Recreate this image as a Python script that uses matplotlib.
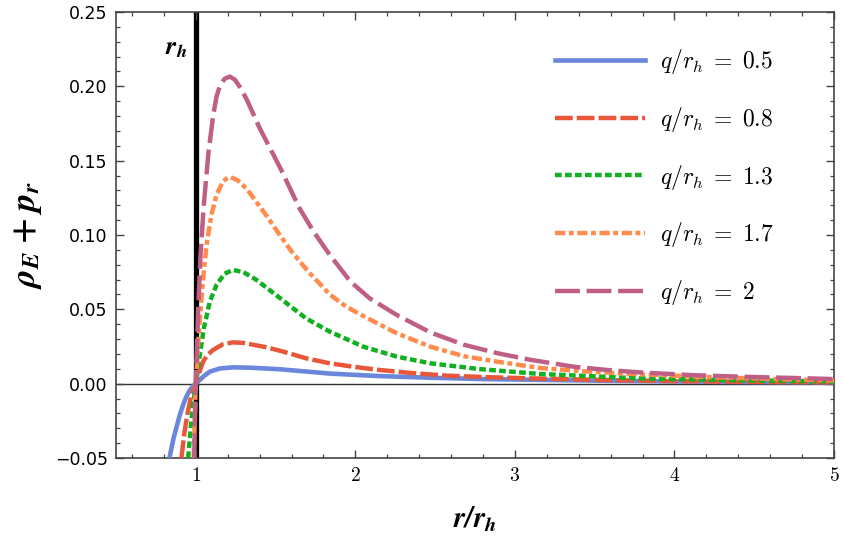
import numpy as np
import matplotlib
matplotlib.use("Agg")
import matplotlib.pyplot as plt
from matplotlib.ticker import MultipleLocator

plt.rcParams['mathtext.fontset'] = 'cm'

# values
q_labels = ["0.5", "0.8", "1.3", "1.7", "2"]

x_q05 = [0.835, 0.86, 0.88, 0.90, 0.92, 0.94, 0.96, 0.98, 1.0, 1.025, 1.05, 1.088,
         1.15, 1.234, 1.35, 1.527, 1.70, 1.84, 2.13, 2.47, 2.8, 3.2, 3.6, 4.0, 4.5, 5.0]
y_q05 = [-0.05, -0.037, -0.029, -0.021, -0.0145, -0.009, -0.0048, -0.0019, 0.0, 0.0025,
         0.005, 0.0081, 0.0102, 0.0110, 0.0107, 0.0097, 0.0081, 0.0068, 0.0052, 0.0040,
         0.0031, 0.0025, 0.0019, 0.0015, 0.0011, 0.0009]

x_q08 = [0.91, 0.93, 0.95, 0.97, 0.985, 1.0, 1.02, 1.046, 1.075, 1.109, 1.17, 1.234,
         1.30, 1.443, 1.55, 1.694, 1.84, 2.0, 2.154, 2.35, 2.572, 2.85, 3.2, 3.6,
         4.0, 4.5, 5.0]
y_q08 = [-0.05, -0.032, -0.019, -0.009, -0.004, 0.0, 0.007, 0.0148, 0.0195, 0.0227,
         0.0265, 0.0278, 0.0274, 0.0245, 0.0215, 0.017, 0.0137, 0.0112, 0.0092, 0.0072,
         0.0054, 0.0043, 0.0033, 0.0024, 0.0017, 0.0012, 0.0009]

x_q13 = [0.952, 0.97, 0.985, 1.0, 1.025, 1.05, 1.088, 1.13, 1.18, 1.234, 1.30, 1.38,
         1.53, 1.69, 1.84, 2.05, 2.26, 2.47, 2.78, 3.16, 3.78, 4.4, 5.0]
y_q13 = [-0.05, -0.028, -0.013, 0.0, 0.019, 0.037, 0.0552, 0.0664, 0.074, 0.0765,
         0.075, 0.0698, 0.0574, 0.044, 0.035, 0.0249, 0.0182, 0.0137, 0.0098, 0.0065,
         0.0036, 0.0023, 0.0015]

x_q17 = [0.987, 1.0, 1.02, 1.04, 1.056, 1.071, 1.098, 1.13, 1.17, 1.19, 1.215, 1.26,
         1.32, 1.44, 1.52, 1.60, 1.70, 1.84, 1.94, 2.05, 2.26, 2.47, 2.68, 2.89, 3.16,
         3.45, 3.78, 4.2, 4.6, 5.0]
y_q17 = [-0.05, 0.0, 0.035, 0.063, 0.082, 0.0956, 0.1135, 0.127, 0.136, 0.1378, 0.139,
         0.137, 0.131, 0.1135, 0.101, 0.089, 0.076, 0.060, 0.052, 0.0455, 0.0339, 0.0249,
         0.0185, 0.0148, 0.0105, 0.0082, 0.0063, 0.0045, 0.0032, 0.0022]

x_q20 = [0.99, 1.0, 1.015, 1.03, 1.05, 1.08, 1.11, 1.13, 1.15, 1.18, 1.213, 1.245,
         1.28, 1.32, 1.40, 1.53, 1.65, 1.74, 1.84, 1.97, 2.09, 2.26, 2.47, 2.68, 2.89,
         3.09, 3.37, 3.58, 3.78, 4.10, 4.41, 4.83, 5.0]
y_q20 = [-0.05, 0.0, 0.050, 0.087, 0.120, 0.156, 0.181, 0.193, 0.200, 0.2050, 0.2066,
         0.2045, 0.199, 0.191, 0.172, 0.145, 0.118, 0.102, 0.0866, 0.0686, 0.0574,
         0.0462, 0.0345, 0.0262, 0.0205, 0.0162, 0.0114, 0.0092, 0.0076, 0.0058,
         0.0047, 0.0036, 0.0031]

xs = [x_q05, x_q08, x_q13, x_q17, x_q20]
ys = [y_q05, y_q08, y_q13, y_q17, y_q20]

colors = ['#6A87DB', '#E8573A', '#10B020', '#FF8C4C', '#BF5F86']
dash_styles = [None, (4.0, 0.9), (1.5, 0.75), (2.3, 0.8, 1.1, 0.8), (5.6, 1.5)]

fig = plt.figure(figsize=(8.43, 5.41), dpi=100)
ax = fig.add_axes([0.1376, 0.1534, 0.8517, 0.8244])

# horizon and zero line
ax.axvline(1.0, color='black', lw=3.8, zorder=1)
ax.axhline(0.0, color='#333333', lw=1.0, zorder=1)

for x, y, c, d, q in zip(xs, ys, colors, dash_styles, q_labels):
    lab = r'$q/r_h\;=\;' + q + '$'
    if d is None:
        ax.plot(x, y, color=c, lw=3.3, label=lab, zorder=3)
    else:
        ax.plot(x, y, color=c, lw=3.2, dashes=d, label=lab, zorder=3)

ax.text(0.880, 0.226, r'$\mathbfit{r_h}$', fontsize=19, ha='center', va='center',
        math_fontfamily='stix')

ax.set_xlim(0.5, 5)
ax.set_ylim(-0.05, 0.25)
ax.xaxis.set_major_locator(MultipleLocator(1))
ax.xaxis.set_minor_locator(MultipleLocator(0.2))
ax.yaxis.set_major_locator(MultipleLocator(0.05))
ax.yaxis.set_minor_locator(MultipleLocator(0.01))
ax.set_xticks([1, 2, 3, 4, 5])
ax.set_xticklabels([r'$%d$' % v for v in [1, 2, 3, 4, 5]], fontsize=14)
ax.set_yticks([-0.05, 0.0, 0.05, 0.10, 0.15, 0.20, 0.25])
ax.set_yticklabels(['\u22120.05', '0.00', '0.05', '0.10', '0.15', '0.20', '0.25'], fontsize=12.5)

ax.tick_params(which='both', direction='in', top=True, right=True, color='#444444')
ax.tick_params(which='major', length=6, width=1.0, pad=6)
ax.tick_params(which='minor', length=3, width=0.9)
for s in ax.spines.values():
    s.set_color('#444444')
    s.set_linewidth(1.2)

ax.set_xlabel(r'$\mathbfit{r/r_h}$', fontsize=21, labelpad=14, math_fontfamily='stix')
ax.set_ylabel(r'$\mathbfit{\rho_E}\;\mathbf{+}\;\mathbfit{p_r}$', fontsize=25, labelpad=8,
              math_fontfamily='stix')

ax.legend(loc='upper right', bbox_to_anchor=(0.929, 0.942), frameon=False, fontsize=17,
          handlelength=3.85, handletextpad=0.6, labelspacing=1.215, borderaxespad=0.0)

fig.savefig('out.png', dpi=100)
